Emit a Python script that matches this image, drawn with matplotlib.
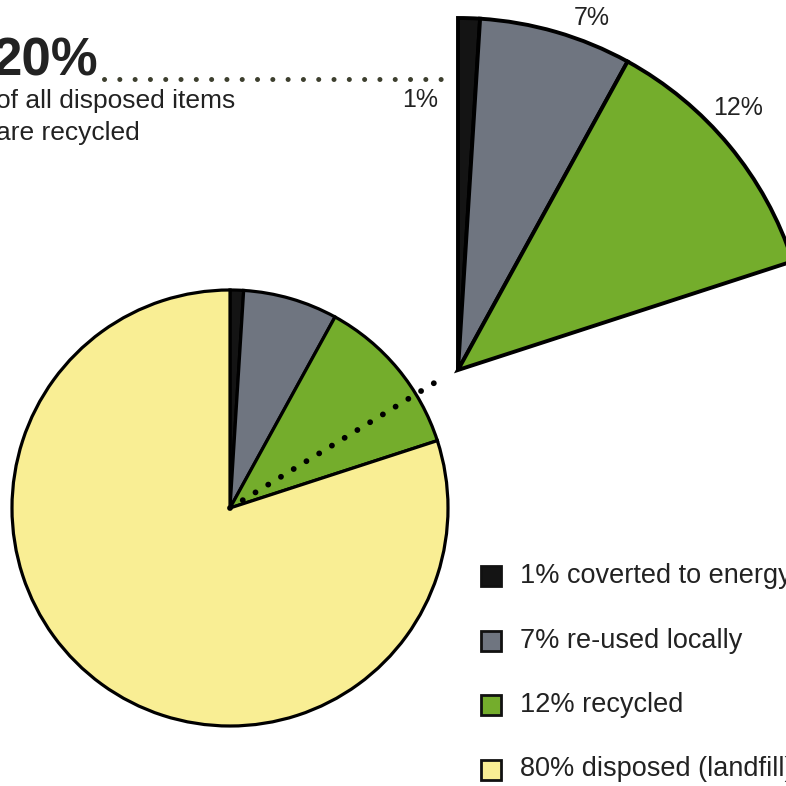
import numpy as np
import matplotlib.pyplot as plt
from matplotlib.patches import Rectangle

plt.rcParams['font.family'] = ['Liberation Sans', 'DejaVu Sans']

shares = [1, 7, 12, 80]
labels = ['1% coverted to energy', '7% re-used locally', '12% recycled', '80% disposed (landfill)']
zoom_labels = ['1%', '7%', '12%']
colors = ['#141414', '#6f7580', '#74ad2c', '#f9ee94']
headline = '20%'
subline = 'of all disposed items\nare recycled'

H = 786
fig = plt.figure(figsize=(7.86, 7.86), dpi=100)
ax = fig.add_axes([0, 0, 1, 1])

# main pie
ax.pie(shares, colors=colors, startangle=90, counterclock=False,
       center=(230, H - 508), radius=218, frame=True,
       wedgeprops=dict(edgecolor='black', linewidth=2.3))

# exploded view of the recycled part (20%)
part = np.array(shares[:3]) / 100
ax.pie(part, colors=colors[:3], startangle=90, counterclock=False,
       normalize=False, center=(458, H - 370), radius=352, frame=True,
       wedgeprops=dict(edgecolor='black', linewidth=2.8))

# dotted connectors
ax.plot([230, 444], [H - 508, H - 377], color='black', lw=4.2,
        ls=(0, (0.01, 2.55)), dash_capstyle='round')
ax.plot([104, 448], [H - 79, H - 79], color='#3d3f2e', lw=3.6,
        ls=(0, (0.01, 3.05)), dash_capstyle='round')

# labels on the exploded slice
for txt, (x, y) in zip(zoom_labels, [(420, 100), (592, 18), (738, 108)]):
    ax.text(x, H - y, txt, fontsize=18, ha='center', va='center', color='#222222')

# headline (cut at the left edge, as in the source)
ax.text(98, H - 75, headline, fontsize=38, fontweight='bold', ha='right',
        va='baseline', color='#222222')
ax.text(-4, H - 108, subline.split('\n')[0], fontsize=19, ha='left',
        va='baseline', color='#222222')
ax.text(-4, H - 140, subline.split('\n')[1], fontsize=19, ha='left',
        va='baseline', color='#222222')

# legend
for i, (lab, c) in enumerate(zip(labels, colors)):
    yc = H - (576 + i * 64.5)
    ax.add_patch(Rectangle((481, yc - 10), 20, 20, facecolor=c,
                           edgecolor='#111111', linewidth=2))
    ax.text(520, yc, lab, fontsize=19.5, ha='left', va='center', color='#222222')

ax.set_xlim(0, 786)
ax.set_ylim(0, 786)
ax.set_aspect('equal')
ax.axis('off')

fig.savefig('out.png', dpi=100, facecolor='white')
